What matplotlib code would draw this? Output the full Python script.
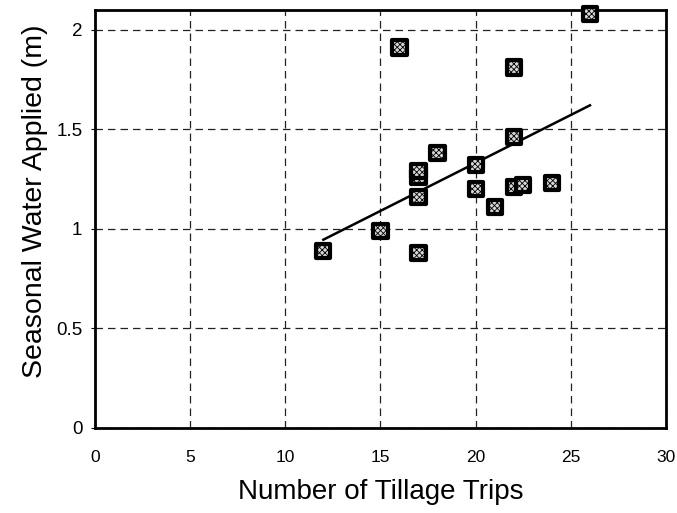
import matplotlib
matplotlib.use("Agg")
import matplotlib.pyplot as plt
import numpy as np

plt.rcParams['font.family'] = ['Liberation Sans', 'DejaVu Sans']
plt.rcParams['hatch.linewidth'] = 0.6

# observed points: tillage trips vs seasonal water applied (m)
trips = [12, 15, 16, 17, 17, 17, 17, 18, 20, 20, 21, 22, 22.5, 22, 22, 24, 26]
water = [0.89, 0.99, 1.91, 0.88, 1.16, 1.26, 1.29, 1.38, 1.32, 1.20, 1.11,
         1.21, 1.22, 1.46, 1.81, 1.23, 2.08]

# fitted trend line
fit_x = [12, 26]
fit_y = [0.945, 1.62]

x_ticks = [0, 5, 10, 15, 20, 25, 30]
y_ticks = [0, 0.5, 1, 1.5, 2]
y_tick_labels = ['0', '0.5', '1', '1.5', '2']

fig = plt.figure(figsize=(6.77, 5.13), dpi=100)
ax = fig.add_axes([0.140, 0.166, 0.844, 0.815])

ax.grid(True, linestyle=(0, (6, 4)), color='#222222', linewidth=0.9)
ax.set_axisbelow(True)

ax.plot(fit_x, fit_y, color='black', linewidth=1.8, zorder=3)
ax.scatter(trips, water, marker='s', s=105, facecolor='#d8d8d8',
           edgecolor='black', linewidth=3.0, hatch='xxxxxx', zorder=4,
           clip_on=False)

ax.set_xlim(0, 30)
ax.set_ylim(0, 2.1)
ax.set_xticks(x_ticks)
ax.set_yticks(y_ticks)
ax.set_yticklabels(y_tick_labels)
ax.tick_params(axis='x', length=0, labelsize=12.5, pad=16)
ax.tick_params(axis='y', length=3, width=0.8, labelsize=13.5, pad=6)

for sp in ax.spines.values():
    sp.set_linewidth(2)
    sp.set_color('black')

ax.set_xlabel('Number of Tillage Trips', fontsize=20, labelpad=10)
ax.set_ylabel('Seasonal Water Applied (m)', fontsize=20.5)
ax.yaxis.set_label_coords(-0.082, 0.541)

fig.savefig('out.png', dpi=100)
